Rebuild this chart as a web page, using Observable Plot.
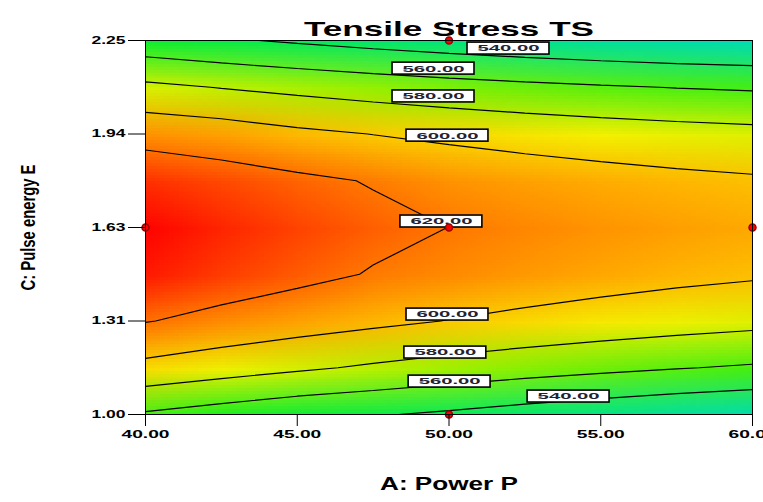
<!DOCTYPE html>
<html><head><meta charset="utf-8">
<script src="https://cdn.jsdelivr.net/npm/d3@7"></script>
<script src="https://cdn.jsdelivr.net/npm/@observablehq/plot@0.6"></script>
<style>body{margin:0;background:#fff} svg{display:block}</style>
</head><body><div id="chart"></div>
<script>
// A: Power P (columns) and C: Pulse energy E (rows, top to bottom), estimated TS values
const powerP = [40, 42.5, 45, 47.5, 50, 52.5, 55, 57.5, 60];
const pulseE = [2.25, 2.09375, 1.9375, 1.78125, 1.625, 1.46875, 1.3125, 1.15625, 1.0];
const tsGrid = [
  [547.1, 542.2, 537.7, 533.4, 529.6, 526.3, 523.4, 521.0, 519.0],
  [584.2, 579.3, 574.9, 570.9, 567.4, 564.3, 561.7, 559.5, 557.9],
  [613.7, 610.0, 603.9, 599.7, 596.0, 592.7, 589.9, 587.5, 585.6],
  [632.1, 628.0, 623.5, 619.0, 613.5, 610.0, 607.0, 604.4, 602.3],
  [639.5, 633.9, 628.8, 624.1, 619.9, 616.2, 613.0, 610.2, 607.8],
  [635.7, 629.9, 624.6, 619.0, 615.3, 611.4, 607.9, 604.8, 602.3],
  [620.8, 614.8, 609.3, 604.2, 599.5, 595.4, 591.7, 588.4, 585.6],
  [594.8, 588.6, 582.9, 577.5, 572.7, 568.3, 564.4, 560.9, 557.9],
  [557.8, 551.3, 545.3, 541.5, 537.0, 532.0, 527.5, 523.0, 519.5]
];
const contourLevels = [540, 560, 580, 600, 620];
const labelLevel = [540, 560, 580, 600, 620, 600, 580, 560, 540];
const labelP = [51.96, 49.49, 49.49, 49.95, 49.75, 49.95, 49.88, 50.02, 53.94];
const labelE = [2.223, 2.156, 2.063, 1.932, 1.645, 1.334, 1.207, 1.110, 1.060];
const designP = [50, 50, 40, 60, 50];
const designE = [2.25, 1.0, 1.625, 1.625, 1.625];
const xTicks = [40, 45, 50, 55, 60];
const xTickLabels = ["40.00", "45.00", "50.00", "55.00", "60.00"];
const yTicks = [1.0, 1.3125, 1.625, 1.9375, 2.25];
const yTickLabels = ["1.00", "1.31", "1.63", "1.94", "2.25"];
const colorDomain = [519, 530, 550, 570, 590, 605, 620, 640];
const colorRange = ["#00dcb4", "#00e678", "#10ee20", "#90f000", "#f5f000", "#ffb400", "#ff7800", "#ff0000"];

// dense grid: sample centres sit on the powerP / pulseE values
const nx = powerP.length, ny = pulseE.length;
const hx = (powerP[1] - powerP[0]) / 2, hy = (pulseE[0] - pulseE[1]) / 2;
const gridOpts = {
  width: nx, height: ny,
  x1: powerP[0] - hx, x2: powerP[nx - 1] + hx,
  y1: pulseE[0] + hy, y2: pulseE[ny - 1] - hy
};
const flat = tsGrid.flat();
const labels = labelLevel.map((v, i) => ({v, p: labelP[i], e: labelE[i]}));
const design = designP.map((p, i) => ({p, e: designE[i]}));

const chart = Plot.plot({
  width: 763, height: 502,
  marginLeft: 145, marginRight: 11, marginTop: 40, marginBottom: 88,
  style: {fontFamily: "'Liberation Sans', Arial, sans-serif", fontWeight: "bold", background: "white", color: "black"},
  x: {domain: [40, 60]},
  y: {domain: [1, 2.25]},
  color: {type: "linear", domain: colorDomain, range: colorRange},
  marks: [
    Plot.raster(flat, {...gridOpts, fill: d => d, clip: true}),
    Plot.contour(flat, {...gridOpts, value: d => d, thresholds: contourLevels, stroke: "black", strokeWidth: 1.2, fill: "none", clip: true}),
    Plot.rect(labels, {x1: d => d.p - 1.35, x2: d => d.p + 1.35, y1: d => d.e - 0.02, y2: d => d.e + 0.02, fill: "white", stroke: "black", strokeWidth: 1.6}),
    Plot.text(labels, {x: "p", y: "e", text: d => d.v.toFixed(2), fontSize: 9, fill: "#223"}),
    Plot.dot(design, {x: "p", y: "e", r: 3.5, fill: "red", stroke: "#900"}),
    Plot.frame({stroke: "black"}),
    Plot.axisX({ticks: xTicks, tickFormat: d => xTickLabels[xTicks.indexOf(d)], tickSize: 12, tickPadding: 4, fontSize: 10, label: null}),
    Plot.axisY({ticks: yTicks, tickFormat: d => yTickLabels[yTicks.indexOf(d)], tickSize: 17, tickPadding: 3, fontSize: 10, label: null}),
    Plot.text(["Tensile Stress TS"], {frameAnchor: "top", dy: -19, fontSize: 21, fontWeight: "bold"}),
    Plot.text(["A: Power P"], {frameAnchor: "bottom", dy: 75, fontSize: 18, fontWeight: "bold"}),
    Plot.text(["C: Pulse energy E"], {frameAnchor: "left", textAnchor: "middle", dx: -117, rotate: -90, fontSize: 20, fontWeight: "bold"})
  ]
});
document.getElementById("chart").appendChild(chart);

function stretch(el, L) {
  el.setAttribute("textLength", L);
  el.setAttribute("lengthAdjust", "spacingAndGlyphs");
}
const lengths = {"Tensile Stress TS": 290, "A: Power P": 138, "C: Pulse energy E": 126};
const svg = d3.select(chart);
svg.selectAll("text").each(function () {
  const t = this.textContent.trim();
  if (lengths[t]) stretch(this, lengths[t]);
  else if (/^\d{3}\.\d\d$/.test(t)) stretch(this, 62);
});
svg.selectAll('g[aria-label="x-axis tick label"] text').each(function () { stretch(this, 48); });
svg.selectAll('g[aria-label="y-axis tick label"] text').each(function () { stretch(this, 34); });
</script></body></html>
